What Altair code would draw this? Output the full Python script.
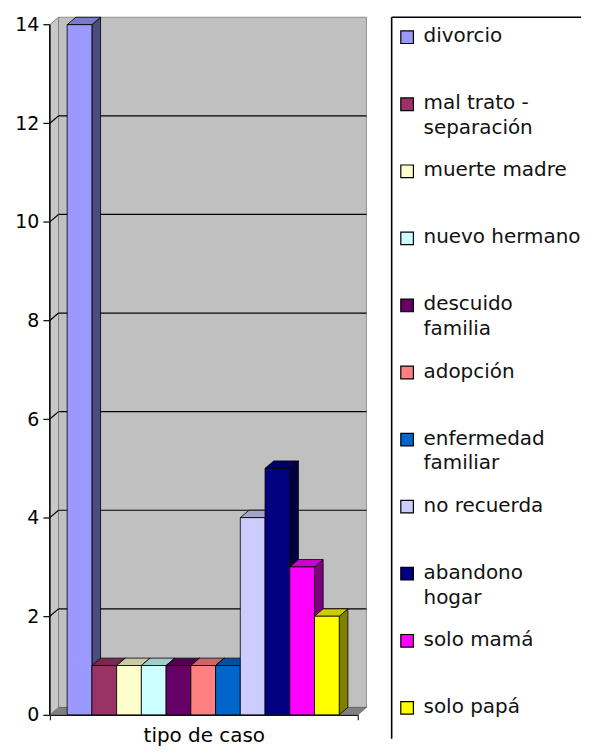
import altair as alt
import pandas as pd

# ---- data ----
categories = ["divorcio", "mal trato - separación", "muerte madre", "nuevo hermano",
              "descuido familia", "adopción", "enfermedad familiar", "no recuerda",
              "abandono hogar", "solo mamá", "solo papá"]
legend_labels = ["divorcio", "mal trato -\nseparación", "muerte madre", "nuevo hermano",
                 "descuido\nfamilia", "adopción", "enfermedad\nfamiliar", "no recuerda",
                 "abandono\nhogar", "solo mamá", "solo papá"]
values = [14, 1, 1, 1, 1, 1, 1, 4, 5, 3, 2]
colors = ["#9999FF", "#993366", "#FFFFCC", "#CCFFFF", "#660066", "#FF8080",
          "#0066CC", "#CCCCFF", "#000080", "#FF00FF", "#FFFF00"]
y_ticks = [0, 2, 4, 6, 8, 10, 12, 14]
grid_values = [2, 4, 6, 8, 10, 12]

# ---- 3D geometry (styling constants) ----
X_MIN, X_MAX = -0.7, 11.75
DX, DY = 0.35, 0.15
Y_TOP = 14
Y_MAX = Y_TOP + DY
W_MAIN, H_MAIN = 309, 700
W_LEG, H_LEG = 190, 724
ROW0, STEP = 20, 67.3
FONT = "DejaVu Sans"


def shade(hex_color, f):
    h = hex_color.lstrip("#")
    r, g, b = (int(h[i:i + 2], 16) for i in (0, 2, 4))
    return "#{:02x}{:02x}{:02x}".format(int(r * f), int(g * f), int(b * f))


front_rows, side_rows, top_rows = [], [], []
for i, (cat, v, c) in enumerate(zip(categories, values, colors)):
    L, R = i, i + 1
    front_rows.append(dict(id=cat, x=L, x2=R, lo=0, hi=v, color=c))
    sc = shade(c, 0.5)
    side_rows += [dict(id=cat, x=R, lo=0, hi=v, color=sc),
                  dict(id=cat, x=R + DX, lo=DY, hi=v + DY, color=sc)]
    tc = shade(c, 0.8)
    top_rows += [dict(id=cat, x=L, lo=v, hi=v, color=tc),
                 dict(id=cat, x=L + DX, lo=v, hi=v + DY, color=tc),
                 dict(id=cat, x=R, lo=v, hi=v + DY, color=tc),
                 dict(id=cat, x=R + DX, lo=v + DY, hi=v + DY, color=tc)]

front_df = pd.DataFrame(front_rows)
side_df = pd.DataFrame(side_rows)
top_df = pd.DataFrame(top_rows)

wall_df = pd.DataFrame([dict(x=X_MIN + DX, x2=X_MAX + DX, lo=DY, hi=Y_TOP + DY)])
left_wall_df = pd.DataFrame([dict(id="w", x=X_MIN, lo=0, hi=Y_TOP),
                             dict(id="w", x=X_MIN + DX, lo=DY, hi=Y_TOP + DY)])
floor_df = pd.DataFrame([dict(id="f", x=X_MIN, lo=0, hi=0),
                         dict(id="f", x=X_MIN + DX, lo=0, hi=DY),
                         dict(id="f", x=X_MAX, lo=0, hi=DY),
                         dict(id="f", x=X_MAX + DX, lo=DY, hi=DY)])
grid_df = pd.DataFrame([dict(y=g + DY, x=X_MIN + DX, x2=X_MAX + DX) for g in grid_values])
slant_df = pd.DataFrame([dict(g=g, x=X_MIN, y=g) for g in grid_values] +
                        [dict(g=g, x=X_MIN + DX, y=g + DY) for g in grid_values])
yaxis_df = pd.DataFrame([dict(x=X_MIN, lo=0, hi=Y_TOP)])

xs = alt.Scale(domain=[X_MIN, X_MAX], nice=False, zero=False)
ys = alt.Scale(domain=[0, Y_MAX], nice=False, zero=False)

x_axis = alt.Axis(values=[X_MIN, X_MAX], labels=False, grid=False, tickSize=5,
                  tickColor="black", domainColor="black", domainWidth=1.5,
                  title="tipo de caso", titleFont=FONT, titleFontSize=20,
                  titleFontWeight="normal", titleColor="black", titlePadding=5)
y_axis = alt.Axis(values=y_ticks, grid=False, domain=False, tickSize=7,
                  tickColor="black", tickWidth=1.2, labelFont=FONT, labelFontSize=19,
                  labelColor="black", labelPadding=4, title="")


def X(field):
    return alt.X(field, scale=xs, axis=x_axis, title="tipo de caso")


def Y(field):
    return alt.Y(field, scale=ys, axis=y_axis, title="", stack=None)


back_wall = alt.Chart(wall_df).mark_rect(fill="#c0c0c0", stroke="#909090", strokeWidth=1).encode(
    x=X("x:Q"), x2="x2:Q", y=Y("lo:Q"), y2="hi:Q")

left_wall = alt.Chart(left_wall_df).mark_area(fill="#c8c8c8", stroke="#808080", strokeWidth=1,
                                              clip=False).encode(
    x=X("x:Q"), y=Y("lo:Q"), y2="hi:Q", detail="id:N")

floor = alt.Chart(floor_df).mark_area(fill="#808080", stroke="#606060", strokeWidth=0.8,
                                      clip=False).encode(
    x=X("x:Q"), y=Y("lo:Q"), y2="hi:Q", detail="id:N")

grid = alt.Chart(grid_df).mark_rule(color="black", strokeWidth=1.2, clip=False).encode(
    x=X("x:Q"), x2="x2:Q", y=Y("y:Q"))

slants = alt.Chart(slant_df).mark_line(color="black", strokeWidth=1.2, clip=False).encode(
    x=X("x:Q"), y=Y("y:Q"), detail="g:N")

sides = alt.Chart(side_df).mark_area(stroke="black", strokeWidth=0.8, clip=False).encode(
    x=X("x:Q"), y=Y("lo:Q"), y2="hi:Q",
    fill=alt.Color("color:N", scale=None), detail="id:N")

tops = alt.Chart(top_df).mark_area(stroke="black", strokeWidth=0.8, clip=False).encode(
    x=X("x:Q"), y=Y("lo:Q"), y2="hi:Q",
    fill=alt.Color("color:N", scale=None), detail="id:N")

fronts = alt.Chart(front_df).mark_rect(stroke="black", strokeWidth=0.8, clip=False).encode(
    x=X("x:Q"), x2="x2:Q", y=Y("lo:Q"), y2="hi:Q",
    fill=alt.Color("color:N", scale=None))

y_line = alt.Chart(yaxis_df).mark_rule(color="black", strokeWidth=1.5, clip=False).encode(
    x=X("x:Q"), y=Y("lo:Q"), y2="hi:Q")

main = alt.layer(back_wall, floor, left_wall, grid, slants, sides, tops, fronts, y_line).properties(
    width=W_MAIN, height=H_MAIN, view=alt.ViewBackground(strokeWidth=0))

# ---- legend panel ----
leg_df = pd.DataFrame({"idx": list(range(len(categories))), "label": legend_labels,
                       "color": colors})
ly = alt.Y("idx:Q", axis=None,
           scale=alt.Scale(domain=[-ROW0 / STEP, (H_LEG - ROW0) / STEP], reverse=True,
                           nice=False, zero=False))
sym = alt.Chart(leg_df).mark_square(size=160, stroke="black", strokeWidth=1.2, opacity=1).encode(
    x=alt.value(15.5), y=ly, fill=alt.Color("color:N", scale=None))
txt = alt.Chart(leg_df).mark_text(align="left", baseline="top", lineBreak="\n", font=FONT,
                                  fontSize=20, lineHeight=25, dy=-11, color="#111111").encode(
    x=alt.value(32), y=ly, text="label:N")
frame_df = pd.DataFrame({"k": [0]})
border_left = alt.Chart(frame_df).mark_rule(color="black", strokeWidth=1.6).encode(
    x=alt.value(0), y=alt.value(0), y2=alt.value(H_LEG))
border_top = alt.Chart(frame_df).mark_rule(color="black", strokeWidth=1.6).encode(
    x=alt.value(0), x2=alt.value(W_LEG), y=alt.value(0))
legend = alt.layer(border_left, border_top, sym, txt).properties(
    width=W_LEG, height=H_LEG, view=alt.ViewBackground(strokeWidth=0))

chart = alt.hconcat(main, legend, spacing=22).properties(
    padding={"top": 6, "left": 6, "right": 0, "bottom": 0}
).configure_view(strokeWidth=0).configure(background="white")

chart.save("out.html", embed_options={"renderer": "svg", "actions": False})
